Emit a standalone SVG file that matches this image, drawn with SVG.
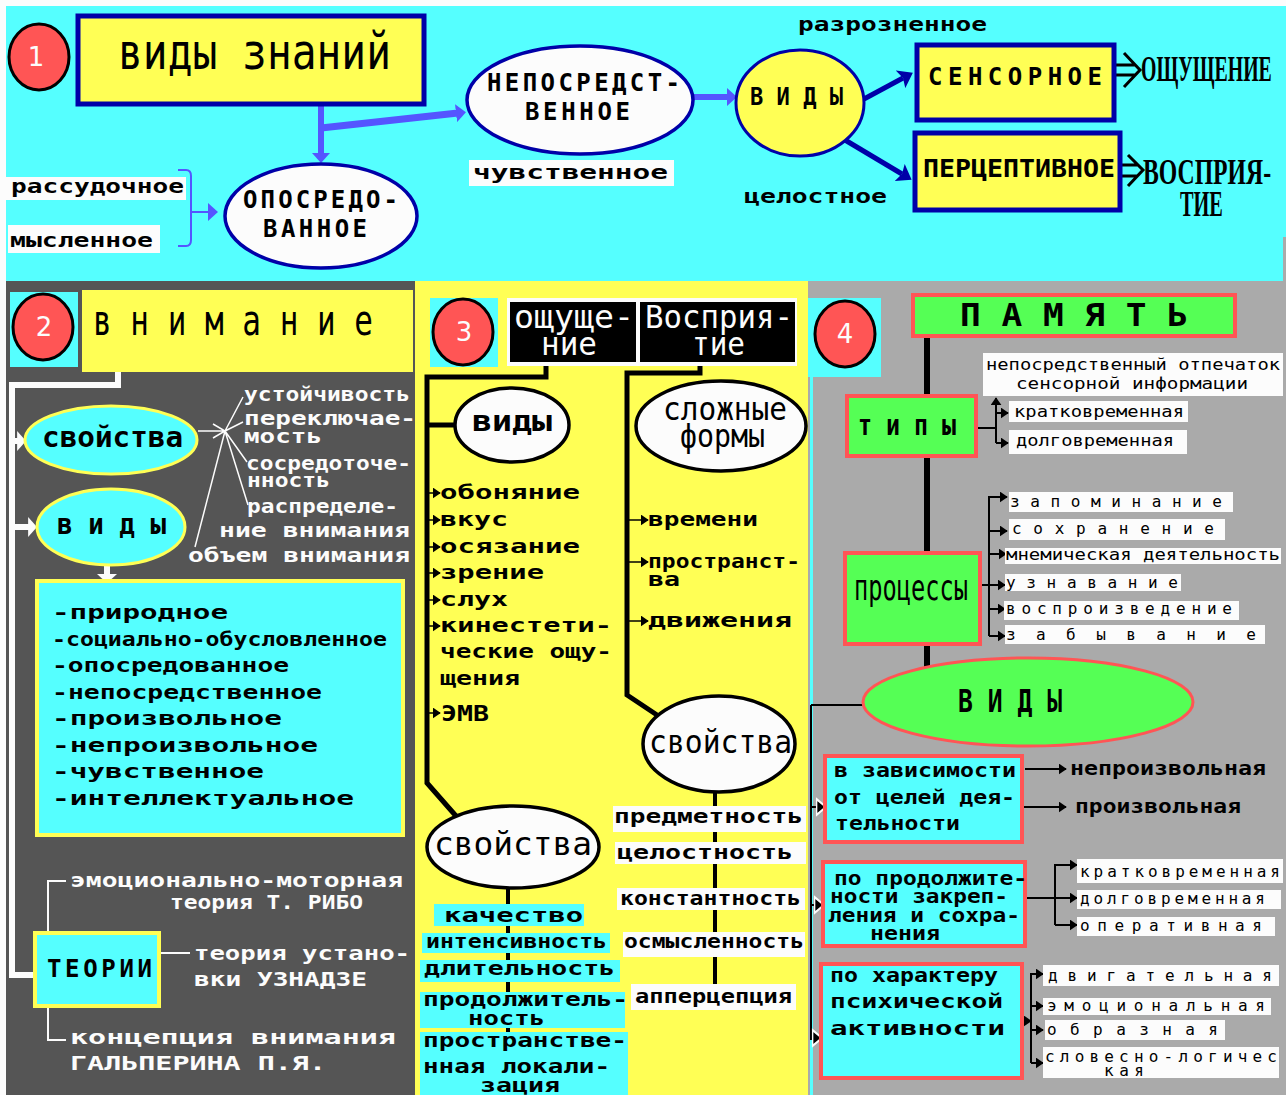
<svg xmlns="http://www.w3.org/2000/svg" width="1286" height="1095" viewBox="0 0 1286 1095">
<style>
text{font-family:"DejaVu Sans Mono","Liberation Mono",monospace;font-weight:700;fill:#000}
.w{fill:#fcfcfc}
.n{font-weight:400}
.serif{font-family:"Liberation Serif","DejaVu Serif",serif;font-weight:700;font-size:36px}
.dig{font-family:"DejaVu Sans","Liberation Sans",sans-serif;font-weight:400;font-size:26px;fill:#fcfcfc;text-anchor:middle}
.f16{font-size:16px}.f18{font-size:18px}.f20{font-size:20px}.f22{font-size:22px}.f24{font-size:24px}
.f28{font-size:28px}.f32{font-size:32px}.f36{font-size:36px}.f42{font-size:42px}.f50{font-size:50px}
.num{fill:#f55;stroke:#000;stroke-width:3}
.nb{fill:#ffff55;stroke:#0000a8;stroke-width:5}
.nc{fill:#ffff55;stroke:#0000a8;stroke-width:3}
.ne{fill:#fcfcfc;stroke:#0000a8;stroke-width:3.5}
.ye{fill:#55ffff;stroke:#ffff55;stroke-width:3}
.yb{fill:#55ffff;stroke:#ffff55;stroke-width:4}
.ke{fill:#fcfcfc;stroke:#000;stroke-width:3.5}
.gb{fill:#55ff55;stroke:#f55;stroke-width:4}
.ge{fill:#55ff55;stroke:#f55;stroke-width:3}
.cb{fill:#55ffff;stroke:#f55;stroke-width:4}
.lab{fill:#fcfcfc}
.cy{fill:#55ffff}
.pu{stroke:#5555ff}.na{stroke:#0000a8}.wh{stroke:#fcfcfc}.bk{stroke:#000}
</style>
<defs>
<marker id="ap" viewBox="0 0 10 10" refX="2" refY="5" markerWidth="10" markerHeight="18" markerUnits="userSpaceOnUse" orient="auto" preserveAspectRatio="none"><path d="M0 0L10 5L0 10Z" fill="#5555ff"/></marker>
<marker id="an" viewBox="0 0 10 10" refX="2" refY="5" markerWidth="14" markerHeight="20" markerUnits="userSpaceOnUse" orient="auto" preserveAspectRatio="none"><path d="M0 0L10 5L0 10L2 5Z" fill="#0000a8"/></marker>
<marker id="aw" viewBox="0 0 10 10" refX="1" refY="5" markerWidth="9" markerHeight="20" markerUnits="userSpaceOnUse" orient="auto" preserveAspectRatio="none"><path d="M0 0L10 5L0 10Z" fill="#fcfcfc"/></marker>
<marker id="ab" viewBox="0 0 10 10" refX="9" refY="5" markerWidth="8" markerHeight="11" markerUnits="userSpaceOnUse" orient="auto" preserveAspectRatio="none"><path d="M0 0L10 5L0 10Z" fill="#000"/></marker>
<marker id="abw" viewBox="-2 -2 14 14" refX="9" refY="5" markerWidth="13" markerHeight="22" markerUnits="userSpaceOnUse" orient="auto" preserveAspectRatio="none"><path d="M0 0L10 5L0 10Z" fill="#000" stroke="#fcfcfc" stroke-width="1.5"/></marker>
</defs>
<g id="background">
<rect width="1286" height="1095" fill="#fcfcfc"/>
<rect x="6" y="6" width="1280" height="275" fill="#55ffff"/>
<rect x="6" y="281" width="409" height="814" fill="#555"/>
<rect x="415" y="281" width="393" height="814" fill="#ffff55"/>
<rect x="808" y="281" width="478" height="814" fill="#aaa"/>
<rect x="1283" y="237" width="3" height="44" fill="#aaa"/>
<rect x="810" y="377" width="3" height="718" fill="#55ffff"/>
</g>
<g id="connectors" fill="none">
<g class="pu">
<path d="M321 106V155" stroke-width="6" marker-end="url(#ap)"/>
<path d="M321 128L458 113" stroke-width="7" marker-end="url(#ap)"/>
<path d="M694 97H729" stroke-width="6" marker-end="url(#ap)"/>
<path d="M178 170H186Q191 170 191 176V240Q191 246 186 246H178M191 212H210" stroke-width="2" marker-end="url(#ap)"/>
</g>
<g class="na" stroke-width="5">
<path d="M864 99L903 78" marker-end="url(#an)"/>
<path d="M845 140L902 174" marker-end="url(#an)"/>
</g>
<g class="bk" stroke-width="3">
<path d="M1116 65H1136M1116 75H1136M1124 53L1140 70L1124 87"/>
<path d="M1122 165H1138M1122 176H1138M1128 155L1143 170L1128 186"/>
</g>
<g class="wh">
<path d="M118 372V385H12V975H34" stroke-width="6"/>
<path d="M12 441H18" stroke-width="6" marker-end="url(#aw)"/>
<path d="M12 527H29" stroke-width="6" marker-end="url(#aw)"/>
<path d="M107 566V575" stroke-width="6" marker-end="url(#aw)"/>
<path d="M198 431H225M225 431L243 397M225 431L243 422M225 431L247 462M225 431L248 505M225 431L195 547M213 424L225 431L213 438" stroke-width="1.5"/>
<path d="M48 932V881H66M160 953H190M48 1007V1040H66" stroke-width="2"/>
</g>
<g class="bk">
<path d="M546 366V377H427V783L456 816M427 425H456" stroke-width="5"/>
<path d="M700 366V373H627V695L657 715" stroke-width="5"/>
<path d="M508 888V1040M715 792V985" stroke-width="4"/>
<g stroke-width="1.5" marker-end="url(#ab)">
<path d="M427 493H440"/><path d="M427 520H440"/><path d="M427 547H440"/><path d="M427 573H440"/><path d="M427 600H440"/><path d="M427 626H440"/><path d="M427 713H440"/>
<path d="M627 520H648"/><path d="M627 562H648"/><path d="M627 621H648"/>
</g>
<path d="M927 338V670" stroke-width="6"/>
<path d="M811 705H863M811 705V1040" stroke-width="2"/>
<path d="M978 428H996M996 443V398" stroke-width="2" marker-end="url(#ab)"/>
<g stroke-width="2" marker-end="url(#ab)">
<path d="M996 413H1008"/><path d="M996 443H1008"/>
<path d="M989 636V497H1007"/><path d="M989 531H1007"/><path d="M989 554H1006"/><path d="M982 585H1005"/><path d="M989 609H1005"/><path d="M989 636H1005"/>
<path d="M1025 769H1066"/><path d="M1024 807H1066"/>
<path d="M1055 925V865H1077"/><path d="M1027 898H1077"/><path d="M1055 925H1077"/>
<path d="M1024 1021H1031"/><path d="M1031 1063V974H1043"/><path d="M1031 1006H1043"/><path d="M1031 1030H1043"/><path d="M1031 1063H1043"/>
</g>
<g stroke-width="2" marker-end="url(#abw)">
<path d="M811 807H825"/><path d="M811 905H823"/><path d="M811 1038H821"/>
</g>
</g>
</g>

<g id="n1-badge"><ellipse class="num" cx="39" cy="57" rx="30" ry="33"/><text class="dig" x="36" y="66">1</text></g>
<g id="n1-title"><rect class="nb" x="78" y="16" width="346" height="88"/><text class="f50 n" x="118" y="69" textLength="273" lengthAdjust="spacingAndGlyphs">виды  знаний</text></g>
<g id="n1-direct"><ellipse class="ne" cx="580" cy="100" rx="113" ry="54"/><text class="f24" x="487" y="91" textLength="193" lengthAdjust="spacing">НЕПОСРЕДСТ-</text><text class="f24" x="525" y="120" textLength="105" lengthAdjust="spacing">ВЕННОЕ</text></g>
<g id="n1-mediated"><ellipse class="ne" cx="321" cy="216" rx="96" ry="52"/><text class="f24" x="243" y="208" textLength="155" lengthAdjust="spacing">ОПОСРЕДО-</text><text class="f24" x="263" y="237" textLength="104" lengthAdjust="spacing">ВАННОЕ</text></g>
<g id="n1-rational"><rect class="lab" x="6" y="177" width="180" height="23"/><text class="f20" x="11" y="193" textLength="173" lengthAdjust="spacingAndGlyphs">рассудочное</text></g>
<g id="n1-mental"><rect class="lab" x="8" y="225" width="152" height="28"/><text class="f20" x="10" y="247" textLength="143" lengthAdjust="spacingAndGlyphs">мысленное</text></g>
<g id="n1-sensual"><rect class="lab" x="469" y="160" width="205" height="26"/><text class="f20" x="473" y="179" textLength="195" lengthAdjust="spacingAndGlyphs">чувственное</text></g>
<g id="n1-kinds"><ellipse class="nc" cx="800" cy="103" rx="64" ry="53"/><text class="f24" x="750" y="105" textLength="93" lengthAdjust="spacingAndGlyphs">В И Д Ы</text></g>
<g id="n1-scattered"><text class="f20" x="798" y="31" textLength="189" lengthAdjust="spacingAndGlyphs">разрозненное</text></g>
<g id="n1-whole"><text class="f20" x="744" y="203" textLength="143" lengthAdjust="spacingAndGlyphs">целостное</text></g>
<g id="n1-sensory"><rect class="nb" x="917" y="45" width="197" height="75"/><text class="f24" x="928" y="85" textLength="174" lengthAdjust="spacing">СЕНСОРНОЕ</text></g>
<g id="n1-perceptive"><rect class="nb" x="915" y="133" width="205" height="77"/><text class="f24" x="923" y="177" textLength="192" lengthAdjust="spacingAndGlyphs">ПЕРЦЕПТИВНОЕ</text></g>
<g id="n1-sensation"><text class="serif" transform="translate(1141 81) scale(.6 1)" textLength="218" lengthAdjust="spacingAndGlyphs">ОЩУЩЕНИЕ</text></g>
<g id="n1-perception"><text class="serif" transform="translate(1143 184) scale(.65 1)" textLength="197" lengthAdjust="spacingAndGlyphs">ВОСПРИЯ-</text><text class="serif" transform="translate(1180 216) scale(.65 1)" textLength="66" lengthAdjust="spacingAndGlyphs">ТИЕ</text></g>

<g id="n2-badge"><rect class="cy" x="10" y="292" width="68" height="75"/><ellipse class="num" cx="43" cy="327" rx="30" ry="33"/><text class="dig" x="44" y="336">2</text></g>
<g id="n2-title"><rect x="82" y="290" width="331" height="82" fill="#ffff55"/><text class="f42 n" x="93" y="335" textLength="280" lengthAdjust="spacingAndGlyphs">в н и м а н и е</text></g>
<g id="n2-props"><ellipse class="ye" cx="111" cy="440" rx="86" ry="34"/><text class="f28" x="42" y="447" textLength="141" lengthAdjust="spacingAndGlyphs">свойства</text></g>
<g id="n2-kinds"><ellipse class="ye" cx="111" cy="527" rx="74" ry="38"/><text class="f28" x="57" y="534" textLength="109" lengthAdjust="spacingAndGlyphs">в и д ы</text></g>
<g id="n2-proplist">
<text class="f20 w" x="244" y="401" textLength="166" lengthAdjust="spacingAndGlyphs">устойчивость</text>
<text class="f20 w" x="244" y="425" textLength="172" lengthAdjust="spacingAndGlyphs">переключае-</text>
<text class="f20 w" x="244" y="443" textLength="78" lengthAdjust="spacingAndGlyphs">мость</text>
<text class="f20 w" x="246" y="470" textLength="165" lengthAdjust="spacingAndGlyphs">сосредоточе-</text>
<text class="f20 w" x="247" y="487" textLength="83" lengthAdjust="spacingAndGlyphs">нность</text>
<text class="f20 w" x="247" y="513" textLength="151" lengthAdjust="spacingAndGlyphs">распределе-</text>
<text class="f20 w" x="219" y="537" textLength="191" lengthAdjust="spacingAndGlyphs">ние внимания</text>
<text class="f20 w" x="188" y="562" textLength="222" lengthAdjust="spacingAndGlyphs">объем внимания</text>
</g>
<g id="n2-list"><rect class="yb" x="37" y="581" width="366" height="254"/>
<text class="f20" x="52" y="619" textLength="176" lengthAdjust="spacingAndGlyphs">-природное</text>
<text class="f20" x="52" y="646" textLength="335" lengthAdjust="spacingAndGlyphs">-социально-обусловленное</text>
<text class="f20" x="52" y="672" textLength="237" lengthAdjust="spacingAndGlyphs">-опосредованное</text>
<text class="f20" x="52" y="699" textLength="270" lengthAdjust="spacingAndGlyphs">-непосредственное</text>
<text class="f20" x="52" y="725" textLength="230" lengthAdjust="spacingAndGlyphs">-произвольное</text>
<text class="f20" x="52" y="752" textLength="266" lengthAdjust="spacingAndGlyphs">-непроизвольное</text>
<text class="f20" x="52" y="778" textLength="212" lengthAdjust="spacingAndGlyphs">-чувственное</text>
<text class="f20" x="52" y="805" textLength="302" lengthAdjust="spacingAndGlyphs">-интеллектуальное</text>
</g>
<g id="n2-theories"><rect class="yb" x="35" y="933" width="124" height="73"/><text class="f24" x="47" y="977" textLength="105" lengthAdjust="spacing">ТЕОРИИ</text></g>
<g id="n2-theorylist">
<text class="f20 w" x="70" y="887" textLength="333" lengthAdjust="spacingAndGlyphs">эмоционально-моторная</text>
<text class="f20 w" x="170" y="909" textLength="193" lengthAdjust="spacingAndGlyphs">теория Т. РИБО</text>
<text class="f20 w" x="194" y="960" textLength="216" lengthAdjust="spacingAndGlyphs">теория устано-</text>
<text class="f20 w" x="194" y="986" textLength="173" lengthAdjust="spacingAndGlyphs">вки УЗНАДЗЕ</text>
<text class="f20 w" x="70" y="1044" textLength="326" lengthAdjust="spacingAndGlyphs">концепция внимания</text>
<text class="f20 w" x="70" y="1070" textLength="256" lengthAdjust="spacingAndGlyphs">ГАЛЬПЕРИНА П.Я.</text>
</g>

<g id="n3-badge"><rect class="cy" x="430" y="298" width="68" height="69"/><ellipse class="num" cx="463" cy="332" rx="30" ry="33"/><text class="dig" x="464" y="341">3</text></g>
<g id="n3-title"><rect class="lab" x="507" y="298" width="290" height="68"/><rect x="510" y="302" width="126" height="60" fill="#000"/><rect x="640" y="302" width="155" height="60" fill="#000"/>
<text class="f32 n w" x="514" y="328" textLength="120" lengthAdjust="spacingAndGlyphs">ощуще-</text><text class="f32 n w" x="541" y="355" textLength="56" lengthAdjust="spacingAndGlyphs">ние</text>
<text class="f32 n w" x="645" y="328" textLength="148" lengthAdjust="spacingAndGlyphs">Восприя-</text><text class="f32 n w" x="692" y="355" textLength="53" lengthAdjust="spacingAndGlyphs">тие</text></g>
<g id="n3-kinds"><ellipse class="ke" cx="512" cy="425" rx="57" ry="37"/><text class="f28" x="472" y="431" textLength="80" lengthAdjust="spacingAndGlyphs">виды</text></g>
<g id="n3-forms"><ellipse class="ke" cx="721" cy="426" rx="85" ry="45"/><text class="f32 n" x="663" y="420" textLength="124" lengthAdjust="spacingAndGlyphs">сложные</text><text class="f32 n" x="680" y="447" textLength="85" lengthAdjust="spacingAndGlyphs">формы</text></g>
<g id="n3-props-right"><ellipse class="ke" cx="719" cy="744" rx="76" ry="48"/><text class="f32 n" x="649" y="753" textLength="143" lengthAdjust="spacingAndGlyphs">свойства</text></g>
<g id="n3-props-left"><ellipse class="ke" cx="513" cy="847" rx="86" ry="41"/><text class="f32 n" x="434" y="855" textLength="158" lengthAdjust="spacingAndGlyphs">свойства</text></g>
<g id="n3-kindlist">
<text class="f20" x="440" y="499" textLength="140" lengthAdjust="spacingAndGlyphs">обоняние</text>
<text class="f20" x="440" y="526" textLength="68" lengthAdjust="spacingAndGlyphs">вкус</text>
<text class="f20" x="440" y="553" textLength="140" lengthAdjust="spacingAndGlyphs">осязание</text>
<text class="f20" x="440" y="579" textLength="104" lengthAdjust="spacingAndGlyphs">зрение</text>
<text class="f20" x="440" y="606" textLength="68" lengthAdjust="spacingAndGlyphs">слух</text>
<text class="f20" x="440" y="632" textLength="172" lengthAdjust="spacingAndGlyphs">кинестети-</text>
<text class="f20" x="440" y="658" textLength="172" lengthAdjust="spacingAndGlyphs">ческие ощу-</text>
<text class="f20" x="440" y="685" textLength="80" lengthAdjust="spacingAndGlyphs">щения</text>
<text class="f22" x="441" y="721" textLength="48" lengthAdjust="spacingAndGlyphs">ЭМВ</text>
</g>
<g id="n3-formlist">
<text class="f20" x="648" y="526" textLength="110" lengthAdjust="spacingAndGlyphs">времени</text>
<text class="f20" x="648" y="568" textLength="152" lengthAdjust="spacingAndGlyphs">пространст-</text>
<text class="f20" x="648" y="586" textLength="32" lengthAdjust="spacingAndGlyphs">ва</text>
<text class="f20" x="648" y="627" textLength="144" lengthAdjust="spacingAndGlyphs">движения</text>
</g>
<g id="n3-quality"><rect class="cy" x="434" y="904" width="150" height="22"/><text class="f20" x="444" y="922" textLength="139" lengthAdjust="spacingAndGlyphs">качество</text></g>
<g id="n3-intensity"><rect class="cy" x="422" y="933" width="188" height="20"/><text class="f20" x="426" y="948" textLength="181" lengthAdjust="spacingAndGlyphs">интенсивность</text></g>
<g id="n3-length"><rect class="cy" x="420" y="960" width="200" height="22"/><text class="f20" x="424" y="975" textLength="191" lengthAdjust="spacingAndGlyphs">длительность</text></g>
<g id="n3-duration"><rect class="cy" x="420" y="992" width="205" height="36"/><text class="f20" x="423" y="1006" textLength="205" lengthAdjust="spacingAndGlyphs">продолжитель-</text><text class="f20" x="468" y="1025" textLength="77" lengthAdjust="spacingAndGlyphs">ность</text></g>
<g id="n3-space"><rect class="cy" x="420" y="1032" width="208" height="63"/><text class="f20" x="423" y="1047" textLength="204" lengthAdjust="spacingAndGlyphs">пространстве-</text><text class="f20" x="423" y="1073" textLength="187" lengthAdjust="spacingAndGlyphs">нная локали-</text><text class="f20" x="480" y="1092" textLength="80" lengthAdjust="spacingAndGlyphs">зация</text></g>
<g id="n3-objectness"><rect class="lab" x="613" y="806" width="193" height="26"/><text class="f20" x="614" y="823" textLength="189" lengthAdjust="spacingAndGlyphs">предметность</text></g>
<g id="n3-integrity"><rect class="lab" x="615" y="842" width="191" height="22"/><text class="f20" x="617" y="859" textLength="176" lengthAdjust="spacingAndGlyphs">целостность</text></g>
<g id="n3-constancy"><rect class="lab" x="617" y="888" width="188" height="22"/><text class="f20" x="620" y="905" textLength="181" lengthAdjust="spacingAndGlyphs">константность</text></g>
<g id="n3-meaning"><rect class="lab" x="623" y="932" width="182" height="25"/><text class="f20" x="624" y="948" textLength="180" lengthAdjust="spacingAndGlyphs">осмысленность</text></g>
<g id="n3-apperception"><rect class="lab" x="631" y="984" width="165" height="26"/><text class="f20" x="635" y="1003" textLength="157" lengthAdjust="spacingAndGlyphs">апперцепция</text></g>

<g id="n4-badge"><rect class="cy" x="808" y="298" width="73" height="79"/><ellipse class="num" cx="845" cy="334" rx="30" ry="33"/><text class="dig" x="845" y="343">4</text></g>
<g id="n4-title"><rect class="gb" x="913" y="295" width="322" height="41"/><text class="f32" x="960" y="326" textLength="228" lengthAdjust="spacingAndGlyphs">П А М Я Т Ь</text></g>
<g id="n4-types"><rect class="gb" x="847" y="396" width="129" height="60"/><text class="f28" x="858" y="435" textLength="98" lengthAdjust="spacingAndGlyphs">т и п ы</text></g>
<g id="n4-processes"><rect class="gb" x="845" y="553" width="135" height="91"/><text class="f36 n" x="854" y="600" textLength="114" lengthAdjust="spacingAndGlyphs">процессы</text></g>
<g id="n4-kinds"><ellipse class="ge" cx="1028" cy="702" rx="165" ry="44"/><text class="f32" x="958" y="712" textLength="104" lengthAdjust="spacingAndGlyphs">В И Д Ы</text></g>
<g id="n4-imprint"><rect class="lab" x="983" y="353" width="300" height="43"/><text class="f16 n" x="986" y="370" textLength="294" lengthAdjust="spacingAndGlyphs">непосредственный отпечаток</text><text class="f16 n" x="1016" y="389" textLength="232" lengthAdjust="spacingAndGlyphs">сенсорной информации</text></g>
<g id="n4-short"><rect class="lab" x="1009" y="401" width="179" height="21"/><text class="f16 n" x="1014" y="417" textLength="170" lengthAdjust="spacingAndGlyphs">кратковременная</text></g>
<g id="n4-long"><rect class="lab" x="1009" y="430" width="178" height="24"/><text class="f16 n" x="1016" y="446" textLength="158" lengthAdjust="spacingAndGlyphs">долговременная</text></g>
<g id="n4-memorize"><rect class="lab" x="1009" y="492" width="224" height="20"/><text class="f16 n" x="1010" y="507" textLength="212" lengthAdjust="spacing">з а п о м и н а н и е</text></g>
<g id="n4-retain"><rect class="lab" x="1009" y="519" width="216" height="21"/><text class="f16 n" x="1012" y="534" textLength="202" lengthAdjust="spacing">с о х р а н е н и е</text></g>
<g id="n4-mnemic"><rect class="lab" x="1005" y="548" width="276" height="16"/><text class="f16 n" x="1006" y="560" textLength="274" lengthAdjust="spacingAndGlyphs">мнемическая деятельность</text></g>
<g id="n4-recognize"><rect class="lab" x="1005" y="574" width="176" height="17"/><text class="f16 n" x="1006" y="588" textLength="172" lengthAdjust="spacing">у з н а в а н и е</text></g>
<g id="n4-reproduce"><rect class="lab" x="1004" y="601" width="235" height="19"/><text class="f16 n" x="1006" y="614" textLength="226" lengthAdjust="spacing">в о с п р о и з в е д е н и е</text></g>
<g id="n4-forget"><rect class="lab" x="1005" y="625" width="260" height="19"/><text class="f16 n" x="1006" y="640" textLength="250" lengthAdjust="spacing">з а б ы в а н и е</text></g>
<g id="n4-goal"><rect class="cb" x="825" y="756" width="197" height="86"/>
<text class="f20" x="834" y="777" textLength="182" lengthAdjust="spacingAndGlyphs">в зависимости</text>
<text class="f20" x="834" y="804" textLength="181" lengthAdjust="spacingAndGlyphs">от целей дея-</text>
<text class="f20" x="835" y="830" textLength="125" lengthAdjust="spacingAndGlyphs">тельности</text></g>
<g id="n4-involuntary"><text class="f20" x="1070" y="775" textLength="196" lengthAdjust="spacingAndGlyphs">непроизвольная</text></g>
<g id="n4-voluntary"><text class="f20" x="1075" y="813" textLength="166" lengthAdjust="spacingAndGlyphs">произвольная</text></g>
<g id="n4-duration"><rect class="cb" x="823" y="862" width="202" height="84"/>
<text class="f20" x="834" y="885" textLength="193" lengthAdjust="spacingAndGlyphs">по продолжите-</text>
<text class="f20" x="830" y="903" textLength="178" lengthAdjust="spacingAndGlyphs">ности закреп-</text>
<text class="f20" x="828" y="922" textLength="192" lengthAdjust="spacingAndGlyphs">ления и сохра-</text>
<text class="f20" x="870" y="940" textLength="70" lengthAdjust="spacingAndGlyphs">нения</text></g>
<g id="n4-d-short"><rect class="lab" x="1077" y="859" width="206" height="24"/><text class="f16 n" x="1080" y="877" textLength="200" lengthAdjust="spacing">к р а т к о в р е м е н н а я</text></g>
<g id="n4-d-long"><rect class="lab" x="1077" y="890" width="204" height="19"/><text class="f16 n" x="1080" y="904" textLength="185" lengthAdjust="spacing">д о л г о в р е м е н н а я</text></g>
<g id="n4-d-oper"><rect class="lab" x="1077" y="917" width="198" height="19"/><text class="f16 n" x="1080" y="931" textLength="182" lengthAdjust="spacing">о п е р а т и в н а я</text></g>
<g id="n4-activity"><rect class="cb" x="821" y="964" width="201" height="114"/>
<text class="f20" x="830" y="982" textLength="168" lengthAdjust="spacingAndGlyphs">по характеру</text>
<text class="f20" x="830" y="1008" textLength="173" lengthAdjust="spacingAndGlyphs">психической</text>
<text class="f20" x="830" y="1035" textLength="175" lengthAdjust="spacingAndGlyphs">активности</text></g>
<g id="n4-a-motor"><rect class="lab" x="1043" y="965" width="236" height="21"/><text class="f16 n" x="1048" y="981" textLength="224" lengthAdjust="spacing">д в и г а т е л ь н а я</text></g>
<g id="n4-a-emo"><rect class="lab" x="1043" y="998" width="228" height="17"/><text class="f16 n" x="1047" y="1011" textLength="218" lengthAdjust="spacing">э м о ц и о н а л ь н а я</text></g>
<g id="n4-a-image"><rect class="lab" x="1045" y="1020" width="180" height="20"/><text class="f16 n" x="1047" y="1035" textLength="171" lengthAdjust="spacing">о б р а з н а я</text></g>
<g id="n4-a-verbal"><rect class="lab" x="1043" y="1047" width="236" height="31"/><text class="f16 n" x="1045" y="1062" textLength="232" lengthAdjust="spacing">с л о в е с н о - л о г и ч е с</text><text class="f16 n" x="1104" y="1076" textLength="40" lengthAdjust="spacing">к а я</text></g>
</svg>
